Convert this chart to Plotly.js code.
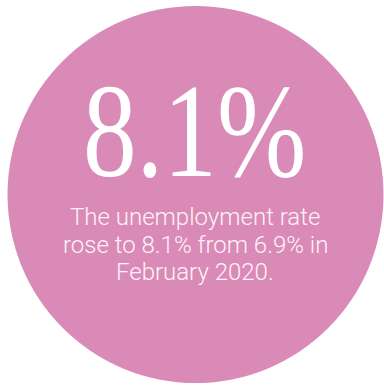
<!DOCTYPE html>
<html><head><meta charset="utf-8">
<script src="https://cdn.plot.ly/plotly-3.0.1.min.js"></script>
<style>html,body{margin:0;padding:0;background:#fff}#c{width:384px;height:385px}</style>
</head><body><div id="c"></div>
<script>
const headline = "8.1%";
const captionLines = ["The unemployment rate", "rose to 8.1% from 6.9% in", "February 2020."];
const circleColor = "#da8ab6";

const captionY = [217, 244.5, 272];
const annotations = [
  {text: headline, x: 194, y: 131, xref: "x", yref: "y", showarrow: false,
   xanchor: "center", yanchor: "middle",
   font: {family: "Liberation Serif", size: 134, color: "#ffffff"}}
];
captionLines.forEach((line, i) => annotations.push({
  text: line, x: 195, y: captionY[i], xref: "x", yref: "y", showarrow: false,
  xanchor: "center", yanchor: "middle", borderpad: 0,
  font: {family: "Roboto", size: 24, color: "#fdf3f8", weight: 300}
}));

const layout = {
  width: 384, height: 385,
  margin: {l:0, r:0, t:0, b:0},
  paper_bgcolor: "#ffffff", plot_bgcolor: "#ffffff",
  showlegend: false,
  xaxis: {range: [0, 384], visible: false, fixedrange: true},
  yaxis: {range: [385, 0], visible: false, fixedrange: true},
  shapes: [{type: "circle", xref: "x", yref: "y", x0: 7.5, x1: 383.5, y0: 6, y1: 383,
            fillcolor: circleColor, line: {width: 0}, layer: "below"}],
  annotations: annotations
};
Plotly.newPlot("c", [], layout, {staticPlot: true, displayModeBar: false}).then(gd => {
  // condense the headline glyphs horizontally (reference uses a narrow display serif)
  const t = gd.querySelector(".annotation .annotation-text");
  if (t) {
    const b = t.getBBox();
    const cx = b.x + b.width / 2;
    t.setAttribute("transform", `translate(${cx},0) scale(0.8,1) translate(${-cx},0)`);
  }
});
</script></body></html>
